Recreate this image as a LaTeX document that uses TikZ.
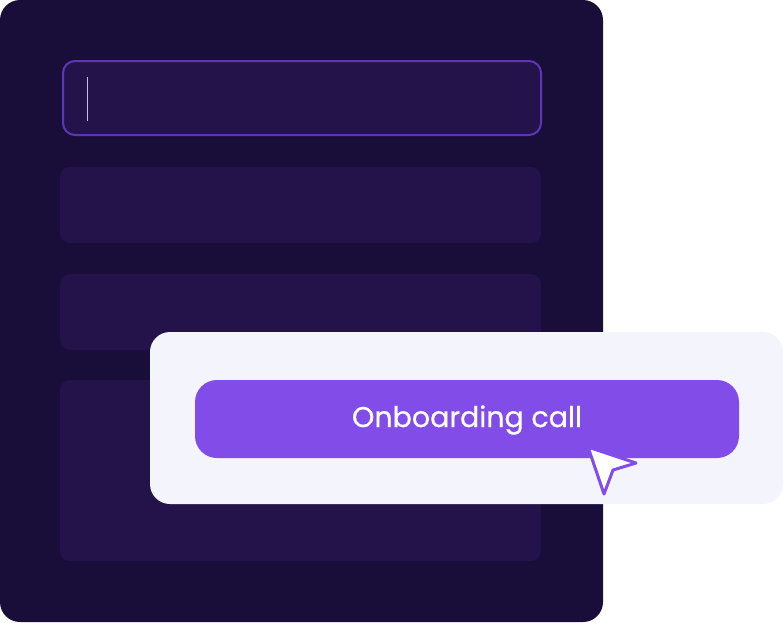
\documentclass[tikz,border=0pt]{standalone}
\usepackage{fontspec}
\setmainfont{Poppins}
\newfontfamily\btnfont{Poppins}[FakeBold=0.6]
\usetikzlibrary{positioning}
\definecolor{panelbg}{HTML}{190D39}
\definecolor{fieldbg}{HTML}{24134A}
\definecolor{fieldline}{HTML}{5D36B8}
\definecolor{cardbg}{HTML}{F4F4FC}
\definecolor{btnbg}{HTML}{814CE8}
\definecolor{caret}{HTML}{C9B8F2}

\begin{document}
\begin{tikzpicture}[x=1pt, y=-1pt,
    field/.style={fill=fieldbg, rounded corners=10pt},
    btn/.style={fill=btnbg, rounded corners=22pt},
    >=stealth]
    \useasboundingbox (0,0) rectangle (783,622);

    % Form panel
    \fill[panelbg, rounded corners=20pt] (0,0) rectangle (603,622);
    \draw[field, draw=fieldline, line width=2pt, rounded corners=12pt] (63,61) rectangle (541,135);
    \draw[caret, line width=1pt] (87,77) -- (87,121);
    \fill[field] (60,167) rectangle (541,243);
    \fill[field] (60,274) rectangle (541,350);
    \fill[field] (60,380) rectangle (541,561);

    % Card with button
    \fill[cardbg, rounded corners=20pt] (150,332) rectangle (783,504);
    \fill[btn] (195,380) rectangle (739,458);
    \node[text=white, font=\btnfont\fontsize{28.5}{32}\selectfont] (btnlabel) at (467,420) {Onboarding call};

    % Pointer
    \draw[btnbg, fill=white, line width=3pt, line join=round]
        (588,447) -- (636,463) -- (613,470) -- (604,494) -- cycle;
\end{tikzpicture}
\end{document}
